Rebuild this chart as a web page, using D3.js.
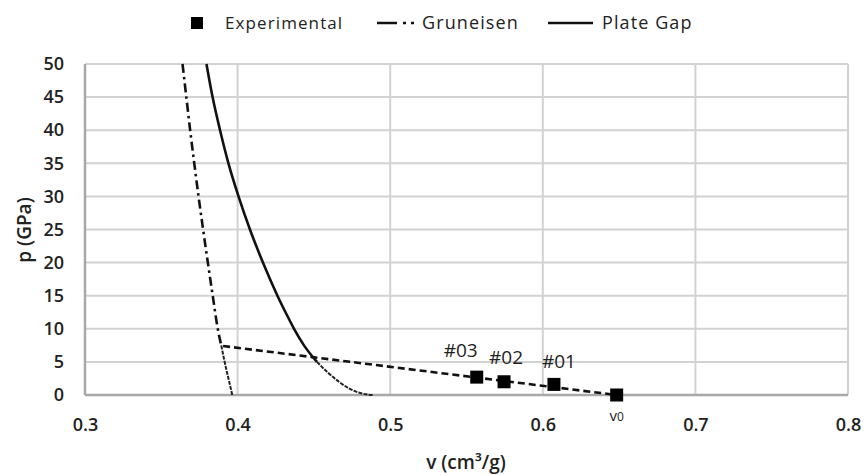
<!DOCTYPE html>
<html>
<head>
<meta charset="utf-8">
<script src="https://cdn.jsdelivr.net/npm/d3@7"></script>
<style>
  html, body { margin: 0; padding: 0; background: #fff; }
  svg { display: block; }
  text { font-family: "Open Sans", "DejaVu Sans", sans-serif; fill: #222; }
</style>
</head>
<body>
<svg id="chart" width="866" height="475"></svg>
<script>
// Specific volume (cm³/g) and pressure (GPa)
const xTicks = [0.3, 0.4, 0.5, 0.6, 0.7, 0.8];
const yTicks = [0, 5, 10, 15, 20, 25, 30, 35, 40, 45, 50];

// Experimental states
const expV = [0.5567, 0.5746, 0.6073, 0.6484];
const expP = [2.7, 2.0, 1.6, 0.0];
const expLabels = ["#03", "#02", "#01", "v0"];

// Line through the experimental states
const rayV = [0.3905, 0.6484];
const rayP = [7.4, 0.0];

// Gruneisen curve
const grunV = [0.3639, 0.3664, 0.3689, 0.3716, 0.3744, 0.3774, 0.3805, 0.3837, 0.3870, 0.3893, 0.3915, 0.3940, 0.3965];
const grunP = [50, 45, 40, 35, 30, 25, 20, 15, 10, 7.5, 5, 2.5, 0];

// Plate gap curve
const plateV = [0.3796, 0.3836, 0.3885, 0.3940, 0.4006, 0.4081, 0.4166, 0.4261, 0.4314, 0.4370, 0.4435, 0.4520, 0.4586, 0.4664, 0.4730, 0.4789, 0.4841, 0.4887];
const plateP = [50, 45, 40, 35, 30, 25, 20, 15, 12.5, 10, 7.5, 5, 3.5, 2, 1, 0.4, 0.1, 0];

const svg = d3.select("#chart");
const margin = { left: 85, right: 18, top: 64, bottom: 80 };
const W = 866, H = 475;

const x = d3.scaleLinear().domain([0.3, 0.8]).range([margin.left, W - margin.right]);
const y = d3.scaleLinear().domain([0, 50]).range([H - margin.bottom, margin.top]);

// Grid
const grid = svg.append("g");
grid.selectAll(".hg").data(yTicks.filter(d => d > 0)).join("line")
  .attr("x1", x(0.3)).attr("x2", x(0.8))
  .attr("y1", d => y(d)).attr("y2", d => y(d))
  .attr("stroke", "#d2d2d2").attr("stroke-width", 2);
grid.selectAll(".vg").data(xTicks.filter(d => d > 0.3)).join("line")
  .attr("x1", d => x(d)).attr("x2", d => x(d))
  .attr("y1", y(0)).attr("y2", y(50))
  .attr("stroke", "#d2d2d2").attr("stroke-width", 2);

// Axis lines
svg.append("line").attr("x1", x(0.3)).attr("x2", x(0.3)).attr("y1", y(0)).attr("y2", y(50))
  .attr("stroke", "#a8a8a8").attr("stroke-width", 2.5);
svg.append("line").attr("x1", x(0.3)).attr("x2", x(0.8)).attr("y1", y(0)).attr("y2", y(0))
  .attr("stroke", "#a8a8a8").attr("stroke-width", 2.5);

// Tick labels via axis generators (domain and tick marks hidden)
const xAxis = svg.append("g").attr("transform", `translate(0,${y(0)})`)
  .call(d3.axisBottom(x).tickValues(xTicks).tickSize(0).tickPadding(23).tickFormat(d3.format(".1f")));
const yAxis = svg.append("g").attr("transform", `translate(${x(0.3)},0)`)
  .call(d3.axisLeft(y).tickValues(yTicks).tickSize(0).tickPadding(21).tickFormat(d3.format("d")));
[xAxis, yAxis].forEach(g => {
  g.select(".domain").remove();
  g.selectAll("text").style("font-family", "'Open Sans', sans-serif")
    .style("font-size", "18px").style("font-weight", "600").attr("fill", "#222");
});

// Axis titles
svg.append("text").attr("x", 466).attr("y", 469).attr("text-anchor", "middle")
  .style("font-size", "19px").style("font-weight", "600")
  .text("v (cm³/g)");
svg.append("text").attr("transform", "translate(31,230) rotate(-90)").attr("text-anchor", "middle")
  .style("font-size", "19px").style("font-weight", "600")
  .text("p (GPa)");

const line = d3.line().x(d => x(d[0])).y(d => y(d[1]));
const smooth = d3.line().curve(d3.curveMonotoneX).x(d => x(d[0])).y(d => y(d[1]));

// Draw a curve heavy above the experimental line and finer below it
function drawCurve(vs, ps, split, dash) {
  const pts = vs.map((v, i) => [v, ps[i]]);
  svg.append("path").datum(pts.filter(d => d[1] >= split))
    .attr("d", smooth).attr("fill", "none").attr("stroke", "#111").attr("stroke-width", 2.6)
    .attr("stroke-dasharray", dash);
  svg.append("path").datum(pts.filter(d => d[1] <= split))
    .attr("d", smooth).attr("fill", "none").attr("stroke", "#222").attr("stroke-width", 2)
    .attr("stroke-dasharray", "4,1.2");
}
drawCurve(plateV, plateP, 5, null);
drawCurve(grunV, grunP, 7.5, "9,4,2.5,4");

// Line through experimental points
svg.append("path").datum(rayV.map((v, i) => [v, rayP[i]]))
  .attr("d", line).attr("fill", "none").attr("stroke", "#111").attr("stroke-width", 2.6)
  .attr("stroke-dasharray", "7,4");

// Experimental squares
const sq = 13;
svg.selectAll(".exp").data(expV.map((v, i) => [v, expP[i]])).join("rect")
  .attr("x", d => x(d[0]) - sq / 2).attr("y", d => y(d[1]) - sq / 2)
  .attr("width", sq).attr("height", sq).attr("fill", "#000");

// Point labels
const labelDx = [-16, 2, 5, 0];
const labelDy = [-20, -18, -16, 26];
expLabels.forEach((t, i) => {
  const tx = svg.append("text")
    .attr("x", x(expV[i]) + labelDx[i]).attr("y", y(expP[i]) + labelDy[i])
    .attr("text-anchor", "middle")
    .style("font-size", i < 3 ? "19px" : "15px").style("font-weight", "500");
  if (t === "v0") {
    tx.append("tspan").text("v");
    tx.append("tspan").text("0").style("font-size", "12px");
  } else {
    tx.text(t);
  }
});

// Legend
const lg = svg.append("g").style("letter-spacing", "1.1px");
lg.append("rect").attr("x", 191).attr("y", 17).attr("width", 12).attr("height", 12).attr("fill", "#000");
lg.append("text").attr("x", 225).attr("y", 29).style("font-size", "17px").style("font-weight", "500")
  .text("Experimental");
lg.append("line").attr("x1", 377).attr("x2", 419).attr("y1", 23).attr("y2", 23)
  .attr("stroke", "#111").attr("stroke-width", 2.6).attr("stroke-dasharray", "20,6,3,5,3,100");
lg.append("text").attr("x", 422).attr("y", 29).style("font-size", "18px").style("font-weight", "500")
  .text("Gruneisen");
lg.append("line").attr("x1", 548).attr("x2", 593).attr("y1", 23).attr("y2", 23)
  .attr("stroke", "#111").attr("stroke-width", 2.6);
lg.append("text").attr("x", 602).attr("y", 29).style("font-size", "18px").style("font-weight", "500")
  .text("Plate Gap");
</script>
</body>
</html>
